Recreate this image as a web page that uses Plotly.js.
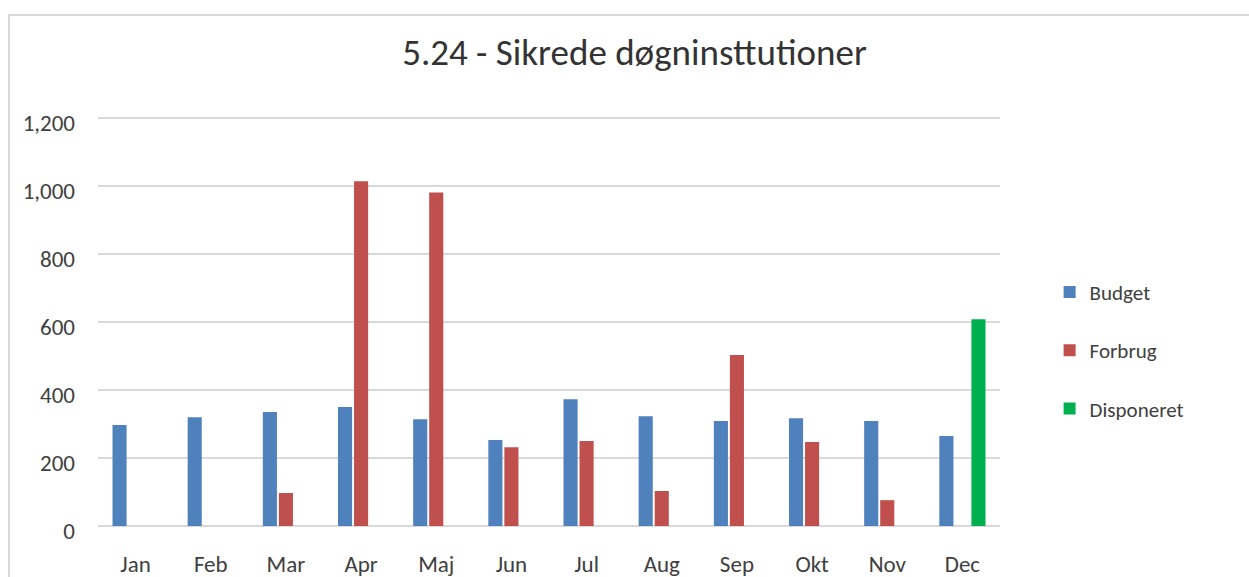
<!DOCTYPE html>
<html>
<head>
<meta charset="utf-8">
<script src="https://cdn.plot.ly/plotly-3.0.1.min.js"></script>
<style>
  html, body { margin: 0; padding: 0; background: #ffffff; }
  #chart { position: absolute; left: 0; top: 0; width: 1249px; height: 577px; }
  #frame { position: absolute; left: 8px; top: 14px; width: 1260px; height: 600px;
           border-top: 2px solid #d9d9d9; border-left: 2px solid #d9d9d9; pointer-events: none; }
</style>
</head>
<body>
<div id="chart"></div>
<div id="frame"></div>
<script>
const months = ["Jan","Feb","Mar","Apr","Maj","Jun","Jul","Aug","Sep","Okt","Nov","Dec"];
const budget = [297, 320, 335, 350, 314, 253, 373, 323, 309, 317, 309, 265];
const forbrug = [null, null, 97, 1014, 981, 232, 250, 103, 503, 247, 76, null];
const disponeret = [null, null, null, null, null, null, null, null, null, null, null, 608];
const yTicks = [0, 200, 400, 600, 800, 1000, 1200];
const yTickText = ["0", "200", "400", "600", "800", "1,000", "1,200"];

const FONT = "Carlito, Lato, 'Open Sans', sans-serif";

const traces = [
  { type: "bar", name: "Budget", x: months, y: budget, marker: { color: "#4F81BD" }, legendgroup: "a" },
  { type: "bar", name: "Forbrug", x: months, y: forbrug, marker: { color: "#C0504D" }, legendgroup: "b" },
  { type: "bar", name: "Disponeret", x: months, y: disponeret, marker: { color: "#00B050" }, legendgroup: "c" }
];

const layout = {
  width: 1249, height: 577,
  margin: { l: 98, r: 249, t: 116, b: 51 },
  paper_bgcolor: "#ffffff", plot_bgcolor: "#ffffff",
  font: { family: FONT, color: "#404040", size: 23 },
  title: { text: "5.24 - Sikrede døgninsttutioner", font: { family: FONT, size: 37, color: "#333333" },
           x: 0.508, xref: "container", xanchor: "center", y: 0.91, yref: "container", yanchor: "middle" },
  barmode: "group", bargap: 0.36, bargroupgap: 0.12,
  xaxis: { type: "category", showgrid: false, showline: false, zeroline: false, ticks: "",
           tickfont: { size: 23, color: "#404040" }, ticklabelstandoff: 22, automargin: false },
  yaxis: { range: [0, 1206], tickvals: yTicks, ticktext: yTickText, showgrid: true, gridcolor: "#d9d9d9", gridwidth: 2,
           zeroline: true, zerolinecolor: "#d9d9d9", zerolinewidth: 2, showline: false, ticks: "",
           tickfont: { size: 23, color: "#404040" }, ticklabelstandoff: 22, ticklabelshift: 5, automargin: false },
  showlegend: true,
  legend: { x: 1.055, xanchor: "left", y: 0.4286, yanchor: "middle", traceorder: "grouped", tracegroupgap: 28,
            font: { size: 21, color: "#404040", family: FONT }, bgcolor: "rgba(0,0,0,0)" }
};

Plotly.newPlot("chart", traces, layout, { displayModeBar: false, staticPlot: true });
</script>
</body>
</html>
